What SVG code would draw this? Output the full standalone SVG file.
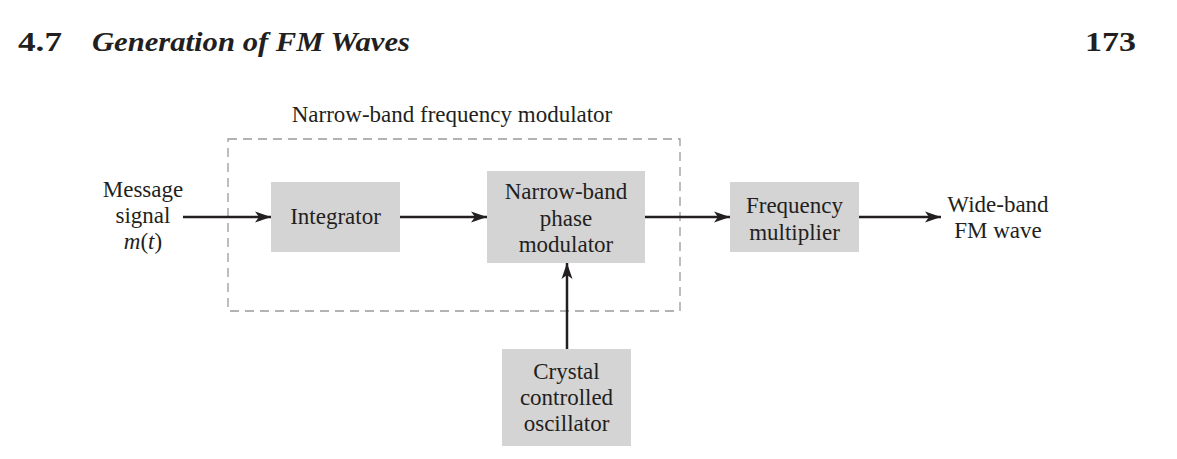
<svg xmlns="http://www.w3.org/2000/svg" width="1177" height="459" viewBox="0 0 1177 459">
<style>
.t{font-family:"Liberation Serif",serif;font-size:23px;fill:#231f20;text-anchor:middle}
.box{fill:#d4d4d4;stroke:none}
.c{stroke:#231f20;stroke-width:2.5;fill:none}
.h{font-family:"Liberation Serif",serif;font-weight:bold;font-size:27px;fill:#231f20}
</style>
<defs>
<marker id="a" markerUnits="userSpaceOnUse" markerWidth="18" markerHeight="12" refX="16" refY="6" orient="auto">
<path d="M0,0.5 L16,6 L0,11.5 L4,6 Z" fill="#231f20"/>
</marker>
</defs>
<rect width="1177" height="459" fill="#fff"/>
<g id="header">
<text class="h" x="18" y="51" textLength="44" lengthAdjust="spacingAndGlyphs">4.7</text>
<text class="h" x="92" y="51" font-style="italic" textLength="318" lengthAdjust="spacingAndGlyphs">Generation of FM Waves</text>
<text class="h" x="1085" y="51" textLength="51" lengthAdjust="spacingAndGlyphs">173</text>
</g>
<g id="nbfm">
<rect x="228" y="139" width="452" height="172" fill="none" stroke="#9a9a9a" stroke-width="1.3" stroke-dasharray="9,6"/>
<text class="t" x="452" y="122">Narrow-band frequency modulator</text>
</g>
<g id="message">
<text class="t" x="143" y="197">Message</text>
<text class="t" x="143" y="223">signal</text>
<text class="t" x="143" y="249" font-style="italic">m<tspan font-style="normal">(</tspan>t<tspan font-style="normal">)</tspan></text>
</g>
<g id="integrator">
<rect class="box" x="271" y="182" width="129" height="70"/>
<text class="t" x="335.5" y="224">Integrator</text>
</g>
<g id="nbpm">
<rect class="box" x="487" y="171" width="158" height="92"/>
<text class="t" x="566" y="199">Narrow-band</text>
<text class="t" x="566" y="226">phase</text>
<text class="t" x="566" y="252">modulator</text>
</g>
<g id="multiplier">
<rect class="box" x="730" y="182" width="129" height="70"/>
<text class="t" x="794.5" y="213">Frequency</text>
<text class="t" x="794.5" y="240">multiplier</text>
</g>
<g id="output">
<text class="t" x="998" y="212">Wide-band</text>
<text class="t" x="998" y="238">FM wave</text>
</g>
<g id="crystal">
<rect class="box" x="502" y="349" width="129" height="97"/>
<text class="t" x="566.5" y="379">Crystal</text>
<text class="t" x="566.5" y="405">controlled</text>
<text class="t" x="566.5" y="431">oscillator</text>
</g>
<g id="connectors">
<line class="c" x1="183" y1="217" x2="271" y2="217" marker-end="url(#a)"/>
<line class="c" x1="400" y1="217" x2="487" y2="217" marker-end="url(#a)"/>
<line class="c" x1="645" y1="217" x2="730" y2="217" marker-end="url(#a)"/>
<line class="c" x1="859" y1="217" x2="941" y2="217" marker-end="url(#a)"/>
<line class="c" x1="567" y1="349" x2="567" y2="263" marker-end="url(#a)"/>
</g>
</svg>
